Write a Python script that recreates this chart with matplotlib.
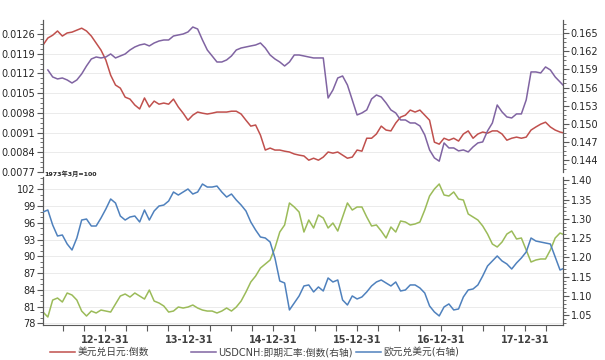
"""Câmbio: JPY, CNH, EUR e índice do dólar (dois painéis, eixos duplos)."""

import matplotlib
matplotlib.use("Agg")
import matplotlib.pyplot as plt
import matplotlib.dates as mdates
from matplotlib.lines import Line2D
from matplotlib.ticker import MultipleLocator, FixedLocator, AutoMinorLocator
import numpy as np
import pandas as pd

plt.rcParams.update({
    "font.family": ["DejaVu Sans", "Noto Sans CJK SC"],
    "font.size": 7,
    "axes.edgecolor": "#595959",
    "xtick.color": "#595959",
    "ytick.color": "#595959",
    "xtick.labelcolor": "#262626",
    "ytick.labelcolor": "#262626",
})

# cores (paleta estilo Excel)
_CLR_JPY = "#C0504D"
_CLR_CNH = "#8064A2"
_CLR_EUR = "#4F81BD"
_CLR_DXY = "#9BBB59"

# dados (amostra a cada 21 dias)
dates = pd.date_range("2012-04-06", periods=109, freq="21D")

jpy_inv = [0.01221, 0.01246, 0.01256, 0.01271, 0.01253, 0.01264, 0.01267, 0.01274, 0.01281, 0.01271,
           0.01253, 0.01228, 0.01203, 0.01168, 0.01114, 0.01079, 0.01068, 0.01036, 0.01029, 0.01008,
           0.00994, 0.01033, 0.01001, 0.01022, 0.01011, 0.01015, 0.01011, 0.01029, 0.01001, 0.00979,
           0.00954, 0.00972, 0.00983, 0.00979, 0.00976, 0.00979, 0.00983, 0.00983, 0.00983, 0.00986,
           0.00986, 0.00976, 0.00954, 0.00933, 0.00937, 0.00901, 0.00848, 0.00855, 0.00848, 0.00848,
           0.00844, 0.00841, 0.00834, 0.00830, 0.00827, 0.00812, 0.00819, 0.00812, 0.00823, 0.00841,
           0.00837, 0.00841, 0.00830, 0.00819, 0.00823, 0.00848, 0.00844, 0.00890, 0.00890, 0.00905,
           0.00933, 0.00919, 0.00916, 0.00944, 0.00965, 0.00972, 0.00990, 0.00983, 0.00990, 0.00972,
           0.00954, 0.00876, 0.00869, 0.00890, 0.00883, 0.00890, 0.00880, 0.00905, 0.00916, 0.00890,
           0.00905, 0.00912, 0.00908, 0.00916, 0.00916, 0.00905, 0.00883, 0.00890, 0.00894, 0.00890,
           0.00894, 0.00919, 0.00930, 0.00940, 0.00947, 0.00930, 0.00919, 0.00912, 0.00908]

cnh_inv = [np.nan, 0.15892, 0.15776, 0.15743, 0.15759, 0.15726, 0.15676, 0.15726, 0.15826, 0.15958,
           0.16074, 0.16107, 0.16091, 0.16107, 0.16157, 0.16091, 0.16124, 0.16157, 0.16223, 0.16273,
           0.16306, 0.16323, 0.16290, 0.16339, 0.16372, 0.16389, 0.16389, 0.16455, 0.16472, 0.16488,
           0.16522, 0.16604, 0.16571, 0.16389, 0.16223, 0.16124, 0.16024, 0.16024, 0.16058, 0.16124,
           0.16223, 0.16256, 0.16273, 0.16290, 0.16306, 0.16339, 0.16256, 0.16140, 0.16074, 0.16024,
           0.15958, 0.16024, 0.16140, 0.16140, 0.16124, 0.16107, 0.16091, 0.16091, 0.16091, 0.15427,
           0.15560, 0.15759, 0.15792, 0.15643, 0.15395, 0.15146, 0.15179, 0.15229, 0.15411, 0.15477,
           0.15444, 0.15345, 0.15229, 0.15179, 0.15063, 0.15063, 0.15013, 0.15013, 0.14964, 0.14815,
           0.14566, 0.14434, 0.14380, 0.14682, 0.14599, 0.14599, 0.14550, 0.14566, 0.14533, 0.14616,
           0.14682, 0.14699, 0.14881, 0.15013, 0.15311, 0.15196, 0.15113, 0.15096, 0.15163, 0.15163,
           0.15395, 0.15859, 0.15859, 0.15842, 0.15942, 0.15892, 0.15776, 0.15693, 0.15610]

eur_usd = [1.3179, 1.3231, 1.2842, 1.2557, 1.2583, 1.2350, 1.2194, 1.2505, 1.2971, 1.2997,
           1.2816, 1.2816, 1.3023, 1.3256, 1.3516, 1.3412, 1.3075, 1.2971, 1.3049, 1.3075,
           1.2920, 1.3231, 1.2971, 1.3205, 1.3334, 1.3360, 1.3464, 1.3697, 1.3619, 1.3697,
           1.3775, 1.3645, 1.3697, 1.3904, 1.3826, 1.3826, 1.3852, 1.3697, 1.3567, 1.3645,
           1.3490, 1.3360, 1.3205, 1.2920, 1.2712, 1.2531, 1.2505, 1.2401, 1.1987, 1.1391,
           1.1339, 1.0640, 1.0821, 1.1003, 1.1262, 1.1288, 1.1107, 1.1236, 1.1132, 1.1469,
           1.1365, 1.1417, 1.0899, 1.0769, 1.1003, 1.0925, 1.0977, 1.1107, 1.1262, 1.1365,
           1.1417, 1.1339, 1.1262, 1.1365, 1.1132, 1.1158, 1.1288, 1.1288, 1.1210, 1.1080,
           1.0744, 1.0588, 1.0485, 1.0718, 1.0796, 1.0640, 1.0666, 1.0977, 1.1158, 1.1184,
           1.1288, 1.1521, 1.1780, 1.1910, 1.2039, 1.1910, 1.1832, 1.1702, 1.1858, 1.1987,
           1.2143, 1.2505, 1.2427, 1.2401, 1.2375, 1.2350, 1.2013, 1.1676, 1.1728]

dxy = [80.02, 79.13, 82.17, 82.53, 81.82, 83.43, 83.07, 82.17, 80.20, 79.31,
       80.20, 79.85, 80.38, 80.20, 80.02, 81.46, 82.89, 83.25, 82.71, 83.43,
       82.89, 82.35, 83.96, 81.99, 81.64, 81.10, 80.02, 80.20, 80.92, 80.74,
       80.92, 81.28, 80.74, 80.38, 80.20, 80.20, 79.85, 80.20, 80.74, 80.20,
       80.92, 81.99, 83.61, 85.40, 86.47, 87.90, 88.62, 89.34, 91.49, 94.35,
       95.61, 99.55, 98.83, 97.93, 94.35, 96.50, 95.07, 97.40, 96.86, 95.07,
       95.96, 94.53, 97.04, 99.55, 98.29, 98.83, 98.83, 97.04, 95.43, 95.61,
       94.53, 93.28, 95.25, 94.35, 96.32, 96.14, 95.61, 95.79, 96.14, 98.29,
       100.80, 102.05, 102.95, 100.98, 100.80, 101.52, 100.26, 100.08, 97.58, 97.04,
       96.50, 95.43, 93.99, 92.20, 91.67, 92.56, 93.99, 94.53, 93.10, 93.28,
       91.13, 88.98, 89.34, 89.52, 89.52, 91.13, 93.28, 94.17, 93.82]

labels = ["美元兑日元:倒数", "USDCNH:即期汇率:倒数(右轴)", "欧元兑美元(右轴)"]

x_lim = (pd.Timestamp("2012-04-06"), pd.Timestamp("2018-06-14"))
year_ticks = [pd.Timestamp(f"{y}-12-31") for y in range(2012, 2018)]
quarter_ticks = [pd.Timestamp(f"{y}-{m:02d}-{d}") for y in range(2012, 2019)
                 for m, d in ((3, 31), (6, 30), (9, 30), (12, 31))]
quarter_ticks = [q for q in quarter_ticks if x_lim[0] < q < x_lim[1] and q.month != 12]


def _style(ax, ax_r, lw_grid=0.5):
    ax.set_facecolor("none")
    ax.grid(True, axis="y", color="#E3E3E3", linewidth=lw_grid)
    ax.set_axisbelow(True)
    for a in (ax, ax_r):
        a.spines["top"].set_visible(False)
        a.spines["left"].set_linewidth(0.8)
        a.spines["right"].set_linewidth(0.8)
        a.tick_params(axis="y", which="major", length=4, width=0.8, pad=1.5)
        a.tick_params(axis="y", which="minor", length=2, width=0.6)
    ax.set_xlim(*x_lim)


fig = plt.figure(figsize=(6.05, 3.6), dpi=100)
fig.patch.set_facecolor("white")

# painel superior
ax1 = fig.add_axes([0.0711, 0.5222, 0.8595, 0.4222])
ax1r = ax1.twinx()
ax1.plot(dates, jpy_inv, color=_CLR_JPY, linewidth=1.1, zorder=3)
ax1r.plot(dates, cnh_inv, color=_CLR_CNH, linewidth=1.1, zorder=3)
ax1.set_ylim(0.0077, 0.0131)
ax1r.set_ylim(0.1420, 0.1672)
ax1.yaxis.set_major_locator(FixedLocator(np.round(np.arange(0.0077, 0.01261, 0.0007), 4)))
ax1.yaxis.set_major_formatter(matplotlib.ticker.FormatStrFormatter("%.4f"))
ax1.yaxis.set_minor_locator(AutoMinorLocator(4))
ax1r.yaxis.set_major_locator(FixedLocator(np.round(np.arange(0.144, 0.1651, 0.003), 3)))
ax1r.yaxis.set_major_formatter(matplotlib.ticker.FormatStrFormatter("%.3f"))
ax1r.yaxis.set_minor_locator(AutoMinorLocator(4))
_style(ax1, ax1r)
for a in (ax1, ax1r):
    a.spines["bottom"].set_visible(False)
    a.tick_params(axis="x", which="both", bottom=False, labelbottom=False)

# painel inferior
ax2 = fig.add_axes([0.0711, 0.0972, 0.8595, 0.4111])
ax2r = ax2.twinx()
ax2.plot(dates, dxy, color=_CLR_DXY, linewidth=1.1, zorder=3)
ax2r.plot(dates, eur_usd, color=_CLR_EUR, linewidth=1.1, zorder=3)
ax2.set_ylim(77.7, 104.2)
ax2r.set_ylim(1.025, 1.4086)
ax2.yaxis.set_major_locator(MultipleLocator(3))
ax2.yaxis.set_minor_locator(AutoMinorLocator(3))
ax2r.yaxis.set_major_locator(FixedLocator(np.round(np.arange(1.05, 1.401, 0.05), 2)))
ax2r.yaxis.set_major_formatter(matplotlib.ticker.FormatStrFormatter("%.2f"))
ax2r.yaxis.set_minor_locator(AutoMinorLocator(5))
_style(ax2, ax2r)
ax2.spines["bottom"].set_linewidth(0.8)
ax2r.spines["bottom"].set_visible(False)
ax2.xaxis.set_major_locator(FixedLocator(mdates.date2num(year_ticks)))
ax2.xaxis.set_minor_locator(FixedLocator(mdates.date2num(quarter_ticks)))
ax2.xaxis.set_major_formatter(mdates.DateFormatter("%y-%m-%d"))
ax2.tick_params(axis="x", which="both", length=4, width=0.8, pad=3)
for lbl in ax2.get_xticklabels():
    lbl.set_fontweight("bold")
    lbl.set_color("#404040")

ax2.text(0.002, 1.0, "1973年3月=100", transform=ax2.transAxes, fontsize=4.5,
         fontweight="bold", color="#262626", ha="left", va="bottom")

# legenda (colunas fixas estilo Excel)
h_jpy = Line2D([], [], color=_CLR_JPY, linewidth=1.1)
h_cnh = Line2D([], [], color=_CLR_CNH, linewidth=1.1)
h_eur = Line2D([], [], color=_CLR_EUR, linewidth=1.1)
leg_kw = dict(frameon=False, fontsize=7, handlelength=2.6, handletextpad=0.2,
              labelcolor="#404040", borderaxespad=0, borderpad=0)
fig.legend([h_jpy], labels[:1], loc="center left",
           bbox_to_anchor=(0.083, 0.022), **leg_kw)
fig.legend([h_cnh, h_eur], labels[1:], loc="center left", ncol=2,
           columnspacing=0.3, bbox_to_anchor=(0.316, 0.022), **leg_kw)

fig.savefig("out.png", dpi=100, facecolor="white")
plt.close(fig)
